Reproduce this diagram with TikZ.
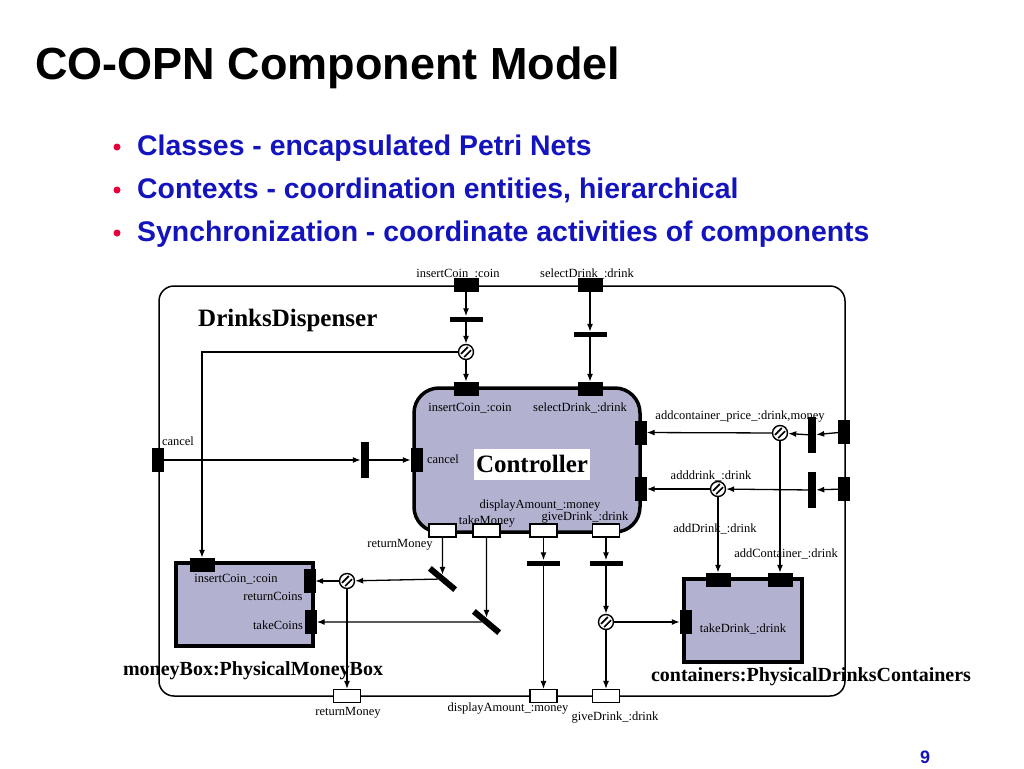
\documentclass[tikz,border=0pt]{standalone}
\usepackage{fontspec}
\setmainfont{Liberation Serif}
\newfontfamily\headfont{Liberation Sans}
\usepackage{tikz}
\usetikzlibrary{positioning,calc,arrows.meta}

\definecolor{boxfill}{RGB}{178,178,208}
\definecolor{slideblue}{RGB}{20,20,190}
\definecolor{dotred}{RGB}{230,0,60}

\tikzset{
  port/.style={draw, fill=black, minimum width=24, minimum height=13, inner sep=0},
  sideport/.style={draw, fill=black, minimum width=11, minimum height=23, inner sep=0},
  outport/.style={draw, fill=white, line width=1.2, minimum width=27, minimum height=13, inner sep=0},
  hbar/.style={fill=black, minimum width=33, minimum height=5, inner sep=0},
  vbar/.style={fill=black, minimum width=8, minimum height=36, inner sep=0},
  sync/.style={circle, draw, fill=white, line width=1.4, minimum size=15, inner sep=0,
    path picture={
      \draw[line width=1.7] ([shift={(-5pt,-1.8pt)}]path picture bounding box.center) -- ++(6.8pt,6.8pt);
      \draw[line width=1.7] ([shift={(-1.8pt,-5pt)}]path picture bounding box.center) -- ++(6.8pt,6.8pt);
    }},
  lbl/.style={inner sep=0, font=\fontsize{12.5}{14}\selectfont},
  comp/.style={draw, line width=3.5, fill=boxfill, inner sep=0},
  cname/.style={inner sep=0, font=\bfseries\fontsize{20}{22}\selectfont},
  arc/.style={->, >={Latex[length=8pt,width=6pt]}, line width=1.3}
}

\begin{document}
\begin{tikzpicture}[x=1pt, y=-1pt]
  \useasboundingbox (0,0) rectangle (1024,768);

  % slide title and bullets
  \node[anchor=base west, inner sep=0, font=\headfont\bfseries\fontsize{45}{50}\selectfont] (title) at (35,79) {CO-OPN Component Model};
  \foreach \txt [count=\i] in {Classes - encapsulated Petri Nets, {Contexts - coordination entities, hierarchical}, Synchronization - coordinate activities of components}
           {
             \node[circle, fill=dotred, minimum size=7, inner sep=0] (dot\i) at (117,104+43*\i) {};
             \node[anchor=base west, inner sep=0, text=slideblue, font=\headfont\bfseries\fontsize{28.4}{32}\selectfont] (item\i) at (137,112+43*\i) {\txt};
           }
  \node[inner sep=0, text=slideblue, font=\headfont\bfseries\fontsize{18}{20}\selectfont] (page) at (925,757) {9};

  % context and components
  \node[draw, line width=1.5, rounded corners=15, minimum width=686, minimum height=410, inner sep=0] (dd) at (502,491) {};
  \node[anchor=west, inner sep=0, font=\bfseries\fontsize{25}{28}\selectfont] (ddname) at (198,320) {DrinksDispenser};
  \node[comp, rounded corners=25, minimum width=226, minimum height=144] (ctrl) at (527,460) {};
  \node[fill=white, inner xsep=2, minimum height=31, font=\bfseries\fontsize{25}{28}\selectfont] (ctrlname) at (532,464) {Controller};
  \node[comp, minimum width=137, minimum height=83] (mbox) at (244.5,604.5) {};
  \node[cname] (mboxname) at (253,671) {moneyBox:PhysicalMoneyBox};
  \node[comp, minimum width=118, minimum height=83] (cbox) at (743,620.5) {};
  \node[cname] (cboxname) at (811,677) {containers:PhysicalDrinksContainers};

  % method and gate names
  \node[lbl] (lIC) at (458,274) {insertCoin\_:coin};
  \node[lbl] (lSD) at (587,274) {selectDrink\_:drink};
  \node[lbl] (lCan) at (178,441) {cancel};
  \node[lbl] (lcIC) at (470,408) {insertCoin\_:coin};
  \node[lbl] (lcSD) at (580,408) {selectDrink\_:drink};
  \node[lbl] (lcCan) at (443,459) {cancel};
  \node[lbl] (lcDA) at (540,506) {displayAmount\_:money};
  \node[lbl] (lcTM) at (487,522) {takeMoney};
  \node[lbl] (lcGD) at (585,518) {giveDrink\_:drink};
  \node[lbl] (lcRM) at (400,545) {returnMoney};
  \node[lbl] (lmIC) at (236,579) {insertCoin\_:coin};
  \node[lbl] (lmRC) at (273,596) {returnCoins};
  \node[lbl] (lmTC) at (278,625) {takeCoins};
  \node[lbl] (lRM) at (348,713) {returnMoney};
  \node[lbl] (lDA) at (508,709) {displayAmount\_:money};
  \node[lbl] (lGD) at (615,718) {giveDrink\_:drink};
  \node[lbl] (lACP) at (740,417) {addcontainer\_price\_:drink,money};
  \node[lbl] (lAD) at (711,476) {adddrink\_:drink};
  \node[lbl] (lkAD) at (715,529) {addDrink\_:drink};
  \node[lbl] (lkAC) at (786,554) {addContainer\_:drink};
  \node[lbl] (lkTD) at (743,629) {takeDrink\_:drink};

  % ports of the context
  \node[port] (oIC) at (466,285) {};
  \node[port] (oSD) at (590,285) {};
  \node[sideport] (oCan) at (157.5,460) {};
  \node[sideport] (oACP) at (844,432) {};
  \node[sideport] (oAD) at (844,489) {};
  \node[outport] (oRM) at (347,696) {};
  \node[outport] (oDA) at (543.5,696) {};
  \node[outport] (oGD) at (606,696) {};

  % ports of the components
  \node[port] (cIC) at (466,388.5) {};
  \node[port] (cSD) at (590,388.5) {};
  \node[sideport] (cCan) at (416.5,460) {};
  \node[sideport] (cACP) at (641,432.5) {};
  \node[sideport] (cAD) at (641,489) {};
  \node[outport] (cRM) at (442.5,530.5) {};
  \node[outport] (cTM) at (486.5,530.5) {};
  \node[outport] (cDA) at (543.5,530.5) {};
  \node[outport] (cGD) at (606,530.5) {};
  \node[port] (mIC) at (202,564.5) {};
  \node[sideport] (mRC) at (309.5,581) {};
  \node[sideport] (mTC) at (311,622) {};
  \node[port] (kAD) at (718,579.5) {};
  \node[port] (kAC) at (780,579.5) {};
  \node[sideport] (kTD) at (685.5,622) {};

  % transitions and synchronisations
  \node[hbar] (tIC) at (466,319) {};
  \node[hbar] (tSD) at (590,334.5) {};
  \node[vbar] (tCan) at (365,460) {};
  \node[vbar] (tACP) at (812,435) {};
  \node[vbar] (tAD) at (812,490) {};
  \node[hbar, minimum height=6, rotate=-40] (tRM) at (442.5,579) {};
  \node[hbar, minimum height=6, rotate=-40] (tTM) at (486.5,622) {};
  \node[hbar] (tDA) at (543.5,563) {};
  \node[hbar] (tGD) at (606,563) {};
  \node[sync] (sIC) at (466,352) {};
  \node[sync] (sRM) at (347,581) {};
  \node[sync] (sGD) at (606,622) {};
  \node[sync] (sACP) at (780,433) {};
  \node[sync] (sAD) at (718,489) {};

  % arcs
  \draw[arc] (oIC) -- (tIC);
  \draw[arc] (tIC) -- (sIC);
  \draw[arc] (sIC) -- (cIC);
  \draw[arc] (sIC) -| (mIC);
  \draw[arc] (oSD) -- (tSD);
  \draw[arc] (tSD) -- (cSD);
  \draw[arc] (oCan) -- (tCan);
  \draw[arc] (tCan) -- (cCan);
  \draw[arc] (cRM) -- (tRM);
  \draw[arc] (tRM) -- (sRM);
  \draw[arc] (sRM) -- (mRC);
  \draw[arc] (sRM) -- (oRM);
  \draw[arc] (cTM) -- (tTM);
  \draw[arc] (tTM) -- (mTC);
  \draw[arc] (cDA) -- (tDA);
  \draw[arc] (tDA) -- (oDA);
  \draw[arc] (cGD) -- (tGD);
  \draw[arc] (tGD) -- (sGD);
  \draw[arc] (sGD) -- (kTD);
  \draw[arc] (sGD) -- (oGD);
  \draw[arc] (oACP) -- (tACP);
  \draw[arc] (tACP) -- (sACP);
  \draw[arc] (sACP) -- (cACP);
  \draw[arc] (sACP) -- (kAC);
  \draw[arc] (oAD) -- (tAD);
  \draw[arc] (tAD) -- (sAD);
  \draw[arc] (sAD) -- (cAD);
  \draw[arc] (sAD) -- (kAD);
\end{tikzpicture}
\end{document}
